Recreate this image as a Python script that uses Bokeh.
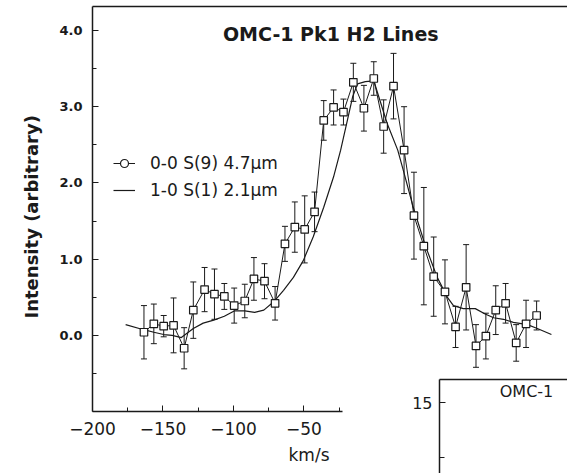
from bokeh.plotting import figure
from bokeh.models import (ColumnDataSource, Whisker, TeeHead, Legend, LegendItem, Label, Title,
                          LinearAxis, FixedTicker, PrintfTickFormatter, Range1d)
from bokeh.embed import file_html
from bokeh.resources import INLINE

# ---------------- data ----------------
title_text = "OMC-1 Pk1 H2 Lines"
x_label = "km/s"
y_label = "Intensity (arbitrary)"
series_s9 = "0-0 S(9) 4.7µm"
series_s1 = "1-0 S(1) 2.1µm"

s9_velocity = [-163.5, -156.5, -149.5, -142.5, -135, -128.5, -120.5, -113.5, -106.5, -99.5,
               -92, -85.5, -78, -70.5, -63.5, -56.5, -49.5, -42.5, -36, -29,
               -22, -15, -7.5, -0.5, 6.5, 13.5, 21, 28, 35, 42,
               50, 57.5, 65, 72, 79, 86, 93, 100.5, 107.5, 115]
s9_intensity = [0.04, 0.15, 0.12, 0.13, -0.17, 0.33, 0.60, 0.54, 0.51, 0.39,
                0.45, 0.74, 0.71, 0.42, 1.20, 1.42, 1.39, 1.62, 2.82, 2.99,
                2.93, 3.32, 2.98, 3.37, 2.74, 3.27, 2.43, 1.57, 1.17, 0.77,
                0.57, 0.11, 0.63, -0.14, -0.01, 0.33, 0.42, -0.10, 0.15, 0.26]
s9_error = [0.35, 0.26, 0.14, 0.36, 0.27, 0.37, 0.29, 0.33, 0.17, 0.23,
            0.22, 0.28, 0.23, 0.22, 0.23, 0.33, 0.44, 0.26, 0.26, 0.23,
            0.17, 0.25, 0.30, 0.22, 0.35, 0.43, 0.57, 0.57, 0.77, 0.52,
            0.42, 0.27, 0.56, 0.28, 0.30, 0.32, 0.26, 0.24, 0.31, 0.19]

s1_velocity = [-176.5, -165, -156.5, -149.5, -143.5, -137, -128.5, -121.5, -114, -106.5,
               -99.5, -92, -85, -78.5, -71.5, -64.5, -57.5, -50.5, -43.5, -36,
               -29, -24, -19, -15.5, -12, -6.5, -0.5, 9, 16.5, 20.5,
               27.5, 36, 44.5, 52, 56, 63, 71.5, 78.5, 84.5, 91.5,
               98.5, 108.5, 115.5, 125.5]
s1_intensity = [0.14, 0.08, 0.04, 0.01, 0.00, -0.03, 0.09, 0.16, 0.20, 0.25,
                0.32, 0.32, 0.30, 0.33, 0.44, 0.59, 0.76, 0.98, 1.29, 1.68,
                2.08, 2.43, 2.84, 3.13, 3.30, 3.33, 3.34, 2.78, 2.43, 2.16,
                1.68, 1.18, 0.76, 0.49, 0.39, 0.35, 0.35, 0.28, 0.23, 0.21,
                0.17, 0.14, 0.09, 0.01]

y_ticks = [0, 1, 2, 3, 4]
y_minor_ticks = [-0.5, 0.5, 1.5, 2.5, 3.5]
x_ticks = [-200, -150, -100, -50]
x_minor_ticks = [-175, -125, -75, -25]

inset_title = "OMC-1"
inset_y_ticks = [15]
inset_y_minor_ticks = [12.5]

# ---------------- styling ----------------
INK = "#1a1a1a"
FONT = "DejaVu Sans"

src9 = ColumnDataSource(dict(
    v=s9_velocity, i=s9_intensity,
    upper=[a + e for a, e in zip(s9_intensity, s9_error)],
    lower=[a - e for a, e in zip(s9_intensity, s9_error)],
))
src1 = ColumnDataSource(dict(v=s1_velocity, i=s1_intensity))

p = figure(width=567, height=473, output_backend="svg", toolbar_location=None,
           x_range=Range1d(-200, 136.9), y_range=Range1d(-1.0, 4.315),
           min_border_left=92, min_border_right=0, min_border_top=6, min_border_bottom=62,
           background_fill_color="white", border_fill_color="white")
p.outline_line_color = None
p.grid.visible = False

# left axis
ya = p.yaxis[0]
ya.ticker = FixedTicker(ticks=y_ticks, minor_ticks=y_minor_ticks)
ya.formatter = PrintfTickFormatter(format="%.1f")
ya.axis_line_color = INK
ya.axis_line_width = 1.5
ya.major_tick_in = 6
ya.major_tick_out = 0
ya.minor_tick_in = 4
ya.minor_tick_out = 0
ya.major_tick_line_color = INK
ya.minor_tick_line_color = INK
ya.major_label_text_font = FONT
ya.major_label_text_font_style = "bold"
ya.major_label_text_font_size = "13px"
ya.major_label_text_color = INK
ya.major_label_standoff = 10

# bottom axis (cut short like the reference)
xa = p.xaxis[0]
xa.ticker = FixedTicker(ticks=x_ticks, minor_ticks=x_minor_ticks)
xa.bounds = (-200, -23)
xa.axis_line_color = INK
xa.axis_line_width = 1.5
xa.major_tick_in = 6
xa.major_tick_out = 0
xa.minor_tick_in = 4
xa.minor_tick_out = 0
xa.major_tick_line_color = INK
xa.minor_tick_line_color = INK
xa.major_label_text_font = FONT
xa.major_label_text_font_size = "17px"
xa.major_label_text_color = INK
xa.major_label_standoff = 10

# axis titles, placed like the reference
p.add_layout(Title(text=y_label, align="left", offset=93, standoff=30,
                   text_font=FONT, text_font_style="bold", text_font_size="18px",
                   text_color=INK), "left")
p.add_layout(Title(text=x_label, align="left", offset=196, standoff=11,
                   text_font=FONT, text_font_style="normal", text_font_size="17px",
                   text_color=INK), "below")

# top border line
top = LinearAxis(ticker=FixedTicker(ticks=[]), major_label_text_font_size="0px",
                 major_tick_out=0, major_tick_in=0, minor_tick_out=0, minor_tick_in=0,
                 major_label_standoff=0, axis_line_color=INK, axis_line_width=1.5)
p.add_layout(top, "above")

# error bars
err = Whisker(source=src9, base="v", upper="upper", lower="lower",
              line_color=INK, line_width=1,
              upper_head=TeeHead(size=6, line_color=INK, line_width=1),
              lower_head=TeeHead(size=6, line_color=INK, line_width=1))
p.add_layout(err)

r_s1 = p.line("v", "i", source=src1, line_color=INK, line_width=1.2)
r_s9_line = p.line("v", "i", source=src9, line_color=INK, line_width=1)
r_s9_pts = p.scatter("v", "i", source=src9, marker="square", size=7.5,
                     fill_color="white", line_color=INK, line_width=1.2)
r_s9_key = p.scatter("v", "i", source=src9, marker="circle", size=5,
                     fill_color="white", line_color=INK, line_width=1.2, visible=False)

legend = Legend(items=[LegendItem(label=series_s9, renderers=[r_s9_line, r_s9_key]),
                       LegendItem(label=series_s1, renderers=[r_s1])],
                location=(21, 211), orientation="vertical",
                glyph_width=22, glyph_height=20, label_height=20, spacing=7,
                label_standoff=15, padding=0, margin=0,
                border_line_color=None, background_fill_alpha=0,
                label_text_font=FONT, label_text_font_size="17px", label_text_color=INK)
p.add_layout(legend)

p.add_layout(Label(x=-31, y=3.96, text=title_text, text_align="center", text_baseline="middle",
                   text_font=FONT, text_font_style="bold", text_font_size="19px", text_color=INK))

# ---------------- fragment of the neighbouring panel ----------------
p2 = figure(width=162, height=103, output_backend="svg", toolbar_location=None,
            x_range=Range1d(0, 1), y_range=Range1d(11.77, 16.05), x_axis_location=None,
            min_border_left=34, min_border_right=0, min_border_top=9, min_border_bottom=0,
            background_fill_color="white", border_fill_color="white",
            styles={"position": "absolute", "left": "405px", "top": "370px"})
p2.outline_line_color = None
p2.grid.visible = False
ya2 = p2.yaxis[0]
ya2.ticker = FixedTicker(ticks=inset_y_ticks, minor_ticks=inset_y_minor_ticks)
ya2.axis_line_color = INK
ya2.axis_line_width = 1.5
ya2.major_tick_in = 6
ya2.major_tick_out = 0
ya2.minor_tick_in = 5
ya2.minor_tick_out = 0
ya2.major_tick_line_color = INK
ya2.minor_tick_line_color = INK
ya2.major_label_text_font = FONT
ya2.major_label_text_font_size = "16px"
ya2.major_label_text_color = INK
ya2.major_label_standoff = 7
top2 = LinearAxis(ticker=FixedTicker(ticks=[]), major_label_text_font_size="0px",
                  major_tick_out=0, major_tick_in=0, minor_tick_out=0, minor_tick_in=0,
                  major_label_standoff=0, axis_line_color=INK, axis_line_width=1.5)
p2.add_layout(top2, "above")
p2.add_layout(Label(x=0.68, y=15.5, text=inset_title, text_align="center", text_baseline="middle",
                    text_font=FONT, text_font_size="16px", text_color=INK))

open("out.html", "w").write(file_html([p, p2], INLINE))
